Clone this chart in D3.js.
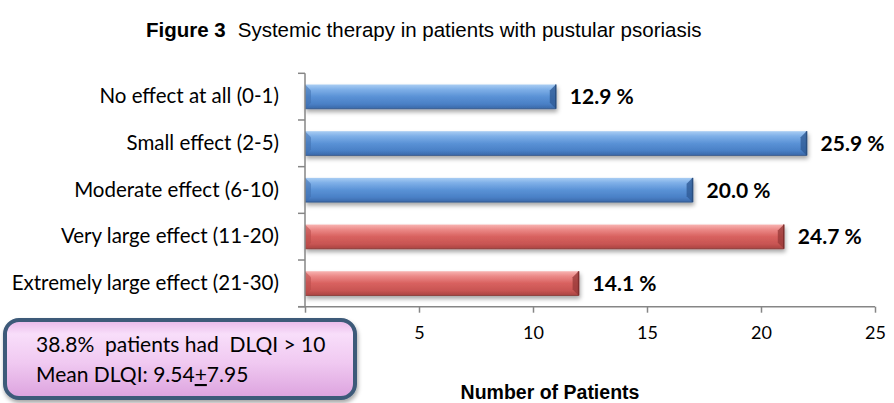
<!DOCTYPE html>
<html>
<head>
<meta charset="utf-8">
<script src="https://cdn.jsdelivr.net/npm/d3@7"></script>
<style>
  html, body { margin: 0; padding: 0; background: #ffffff; }
  svg { display: block; }
</style>
</head>
<body>
<svg id="chart" width="894" height="403"></svg>
<script>
// DLQI categories, patient counts and their share of the 85 patients
const categories = [
  "No effect at all (0-1)",
  "Small effect (2-5)",
  "Moderate effect (6-10)",
  "Very large effect (11-20)",
  "Extremely large effect (21-30)"
];
const patients = [11, 22, 17, 21, 12];
const percentLabels = ["12.9 %", "25.9 %", "20.0 %", "24.7 %", "14.1 %"];
const barGroup = ["low", "low", "low", "high", "high"];
const xTicks = [0, 5, 10, 15, 20, 25];
const xTickLabels = ["", "5", "10", "15", "20", "25"];
const noteLines = ["38.8%  patients had  DLQI > 10", "Mean DLQI: 9.54", "7.95"];

const svg = d3.select("#chart");
const defs = svg.append("defs");

const x = d3.scaleLinear().domain([0, 25]).range([305, 875]);
const y = d3.scaleBand().domain(categories).range([73.3, 306.7])
  .paddingInner(0.48).paddingOuter(0.24);

// bar gradients (glossy bevelled look)
const palettes = {
  low:  { stops: ["#a9cdf3", "#7fb0e8", "#5a92d6", "#4a80c6", "#3a68a8"], edge: "#2b4f80", capL: "#3f6fae", capR: "#2f5b96" },
  high: { stops: ["#f8b4b2", "#ec8a88", "#d8615f", "#c85553", "#a94442"], edge: "#7f2f2e", capL: "#b84a48", capR: "#9a3b3a" }
};
Object.entries(palettes).forEach(([k, p]) => {
  const g = defs.append("linearGradient").attr("id", "grad-" + k)
    .attr("x1", 0).attr("y1", 0).attr("x2", 0).attr("y2", 1);
  [0, 0.2, 0.5, 0.8, 1].forEach((o, i) =>
    g.append("stop").attr("offset", o).attr("stop-color", p.stops[i]));
});

const shadow = defs.append("filter").attr("id", "shadow")
  .attr("x", "-5%").attr("y", "-30%").attr("width", "115%").attr("height", "180%");
shadow.append("feDropShadow").attr("dx", 1).attr("dy", 3)
  .attr("stdDeviation", 2).attr("flood-color", "#000").attr("flood-opacity", 0.35);

const boxGrad = defs.append("linearGradient").attr("id", "grad-box")
  .attr("x1", 0).attr("y1", 0).attr("x2", 0).attr("y2", 1);
[["0", "#e8b6e9"], ["0.18", "#f8defa"], ["0.55", "#f0c9f1"], ["1", "#dca2de"]]
  .forEach(([o, c]) => boxGrad.append("stop").attr("offset", o).attr("stop-color", c));

// title
const title = svg.append("text")
  .attr("x", 146).attr("y", 37)
  .attr("font-family", "'Liberation Sans', Arial, sans-serif")
  .attr("font-size", 20.5).attr("fill", "#000");
title.append("tspan").attr("font-weight", "bold").text("Figure 3");
title.append("tspan").attr("dx", 12).text("Systemic therapy in patients with pustular psoriasis");

// bars
const bars = svg.append("g");
categories.forEach((c, i) => {
  const p = palettes[barGroup[i]];
  const x0 = x(0), x1 = x(patients[i]);
  const y0 = y(c), h = y.bandwidth(), b = 6;
  const g = bars.append("g").attr("filter", "url(#shadow)");
  g.append("rect").attr("x", x0).attr("y", y0).attr("width", x1 - x0).attr("height", h)
    .attr("fill", `url(#grad-${barGroup[i]})`);
  // left bevel
  g.append("path")
    .attr("d", `M${x0},${y0} L${x0 + b},${y0 + b} L${x0 + b},${y0 + h - b} L${x0},${y0 + h} Z`)
    .attr("fill", p.capL).attr("opacity", 0.55);
  // right bevel
  g.append("path")
    .attr("d", `M${x1},${y0} L${x1 - b},${y0 + b} L${x1 - b},${y0 + h - b} L${x1},${y0 + h} Z`)
    .attr("fill", p.capR).attr("opacity", 0.8);
  g.append("line").attr("x1", x1).attr("x2", x1).attr("y1", y0).attr("y2", y0 + h)
    .attr("stroke", p.edge).attr("stroke-width", 1.5);
  g.append("line").attr("x1", x0).attr("x2", x1).attr("y1", y0 + h).attr("y2", y0 + h)
    .attr("stroke", p.edge).attr("stroke-width", 1).attr("opacity", 0.7);
});

// value labels
svg.append("g").selectAll("text").data(categories).join("text")
  .attr("x", (c, i) => x(patients[i]) + 14)
  .attr("y", c => y(c) + y.bandwidth() / 2)
  .attr("dy", "0.36em")
  .attr("font-family", "Lato, sans-serif").attr("font-weight", "bold")
  .attr("font-size", 21).attr("fill", "#000")
  .text((c, i) => percentLabels[i]);

// axes
const axisColor = "#868686";
const yAxis = svg.append("g").attr("transform", `translate(${x(0)},0)`)
  .call(d3.axisLeft(y).tickSize(0).tickPadding(26));
yAxis.select(".domain").remove();
yAxis.selectAll("text").attr("font-family", "Lato, sans-serif")
  .attr("font-size", 20.5).attr("fill", "#000");
svg.append("line").attr("x1", x(0)).attr("x2", x(0))
  .attr("y1", y.range()[0]).attr("y2", y.range()[1])
  .attr("stroke", axisColor).attr("stroke-width", 1.5);
const bounds = d3.range(categories.length + 1).map(k => y.range()[0] + k * y.step());
svg.append("g").selectAll("line").data(bounds).join("line")
  .attr("x1", x(0) - 7).attr("x2", x(0)).attr("y1", d => d).attr("y2", d => d)
  .attr("stroke", axisColor).attr("stroke-width", 1.5);

const xAxis = svg.append("g").attr("transform", `translate(0,${y.range()[1]})`)
  .call(d3.axisBottom(x).tickValues(xTicks).tickSize(6).tickPadding(14)
    .tickFormat((d, i) => xTickLabels[i]));
xAxis.select(".domain").attr("stroke", axisColor).attr("stroke-width", 1.5)
  .attr("d", `M${x(0) - 7},0H${x(25)}`);
xAxis.selectAll(".tick line").attr("stroke", axisColor).attr("stroke-width", 1.5);
xAxis.selectAll("text").attr("font-family", "Lato, sans-serif")
  .attr("font-size", 18).attr("fill", "#000");

// axis title
svg.append("text").attr("x", 550).attr("y", 399).attr("text-anchor", "middle")
  .attr("font-family", "'Liberation Sans', Arial, sans-serif")
  .attr("font-weight", "bold").attr("font-size", 19.5).attr("fill", "#000")
  .text("Number of Patients");

// summary note
const note = svg.append("g");
note.append("rect").attr("x", 5).attr("y", 320).attr("width", 350).attr("height", 78)
  .attr("rx", 14).attr("fill", "url(#grad-box)")
  .attr("stroke", "#3d5a79").attr("stroke-width", 4).attr("filter", "url(#shadow)");
note.append("text").attr("x", 36).attr("y", 352)
  .attr("font-family", "Lato, sans-serif").attr("font-size", 21).attr("fill", "#000")
  .attr("xml:space", "preserve").style("white-space", "pre")
  .text(noteLines[0]);
const l2 = note.append("text").attr("x", 36).attr("y", 382)
  .attr("font-family", "Lato, sans-serif").attr("font-size", 21).attr("fill", "#000");
l2.append("tspan").text(noteLines[1]);
l2.append("tspan").attr("text-decoration", "underline").style("text-decoration", "underline").text("+");
l2.append("tspan").text(noteLines[2]);
</script>
</body>
</html>
